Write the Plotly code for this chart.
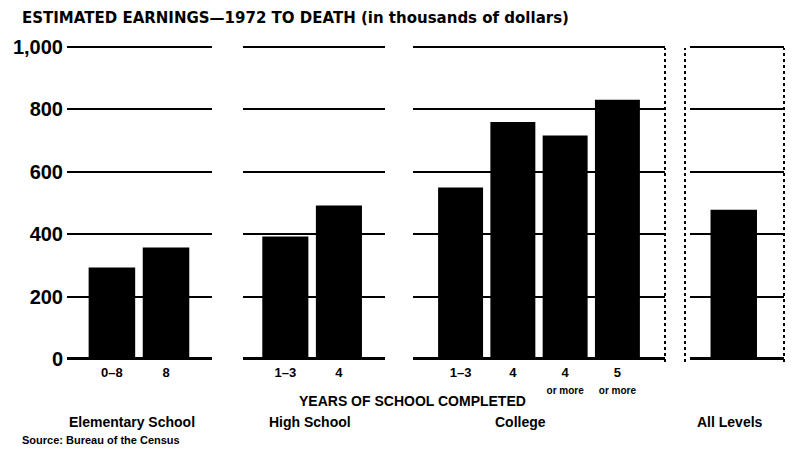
import plotly.graph_objects as go

# ---- data ----
elem_cats = ["0–8", "8"]
elem_vals = [293, 357]
hs_cats = ["1–3", "4"]
hs_vals = [393, 492]
col_cats = ["1–3", "4", "4<br><span style='font-size:10px'>or more</span>", "5<br><span style='font-size:10px'>or more</span>"]
col_vals = [550, 760, 716, 831]
all_cats = [""]
all_vals = [478]
y_ticks = [0, 200, 400, 600, 800, 1000]
y_tick_labels = ["0", "200", "400", "600", "800", "1,000"]
group_labels = ["Elementary School", "High School", "College", "All Levels"]

OFF = 8                     # default page body margin
W, H = 793 - 2 * OFF, 455 - 2 * OFF
FONT = "Liberation Sans"
WIDE = "DejaVu Sans"

def px(x):
    return (x - OFF) / W

def py(y):
    return (H - (y - OFF)) / H

fig = go.Figure()
panels = [(elem_cats, elem_vals, "x", "y"),
          (hs_cats, hs_vals, "x2", "y2"),
          (col_cats, col_vals, "x3", "y3"),
          (all_cats, all_vals, "x4", "y4")]
for cats, vals, xa, ya in panels:
    fig.add_trace(go.Bar(x=cats, y=vals, xaxis=xa, yaxis=ya,
                         marker=dict(color="black", line=dict(width=0)),
                         width=0.86, showlegend=False))

s = 0.312  # px per unit
y0p, y1p = 359, 47
ydom = [py(y0p + 4 * s), py(y1p - 6 * s)]
xdoms = [[px(67), px(212)], [px(243), px(385)], [px(413), px(665)], [px(690), px(784)]]
xranges = [[-0.83, 1.85], [-0.79, 1.86], [-0.91, 3.91], [-0.81, 0.93]]

layout = dict(
    width=W, height=H,
    margin=dict(l=0, r=0, t=0, b=0),
    paper_bgcolor="white", plot_bgcolor="white",
    font=dict(family=FONT, color="black"),
)
for i in range(4):
    sx = "" if i == 0 else str(i + 1)
    layout["xaxis" + sx] = dict(
        domain=xdoms[i], range=xranges[i], type="category",
        anchor="y" + sx, showgrid=False, showline=False, zeroline=False,
        ticks="", tickfont=dict(family=FONT, size=13, color="black", weight="bold"),
        ticklabelstandoff=3,
    )
    layout["yaxis" + sx] = dict(
        domain=ydom, range=[-4, 1006], anchor="x" + sx,
        tickvals=y_ticks, ticktext=y_tick_labels,
        showticklabels=(i == 0), showgrid=True, gridcolor="black", gridwidth=2,
        zeroline=True, zerolinecolor="black", zerolinewidth=3,
        showline=False, ticks="", automargin=False,
        tickfont=dict(family=FONT, size=20, color="black", weight="bold"),
        ticklabelstandoff=3,
    )
fig.update_layout(**layout)

# vertical dotted separators
for xv in [665, 685, 784]:
    fig.add_shape(type="line", xref="paper", yref="paper",
                  x0=px(xv), x1=px(xv), y0=py(362), y1=py(48),
                  line=dict(color="black", width=2, dash="dot"))

ann = []
ann.append(dict(text="ESTIMATED EARNINGS—1972 TO DEATH (in thousands of dollars)",
                x=px(20), y=py(18), xanchor="left", yanchor="middle",
                font=dict(family=WIDE, size=15, weight="bold")))
ann.append(dict(text="YEARS OF SCHOOL COMPLETED", x=px(413), y=py(401),
                xanchor="center", yanchor="middle", font=dict(size=14, weight="bold")))
for lab, cx in zip(group_labels, [132, 310, 520, 730]):
    ann.append(dict(text=lab, x=px(cx), y=py(422), xanchor="center", yanchor="middle",
                    font=dict(size=14, weight="bold")))
ann.append(dict(text="Source: Bureau of the Census", x=px(20), y=py(440),
                xanchor="left", yanchor="middle", font=dict(size=11, weight="bold")))
for a in ann:
    a.update(xref="paper", yref="paper", showarrow=False)
fig.update_layout(annotations=ann)

fig.write_html("out.html")
